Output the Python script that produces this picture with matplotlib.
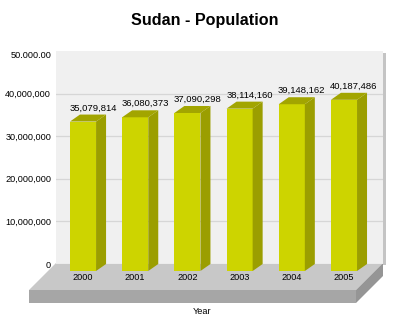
import matplotlib
matplotlib.use("Agg")
import matplotlib.pyplot as plt
import matplotlib.transforms as mtransforms
from matplotlib.patches import Polygon, Rectangle

plt.rcParams['font.family'] = ['Liberation Sans', 'DejaVu Sans']

years = ['2000', '2001', '2002', '2003', '2004', '2005']
population = [35079814, 36080373, 37090298, 38114160, 39148162, 40187486]
value_labels = ['35,079,814', '36,080,373', '37,090,298', '38,114,160', '39,148,162', '40,187,486']
ytick_vals = [0, 10000000, 20000000, 30000000, 40000000, 50000000]
ytick_labels = ['0', '10,000,000', '20,000,000', '30,000,000', '40,000,000', '50.000.00']

W, H = 394, 322
DPI = 100
fig = plt.figure(figsize=(W / DPI, H / DPI), dpi=DPI)
fig.patch.set_facecolor('white')

# background axes in pixel coordinates (for floor / shadows)
bg = fig.add_axes([0, 0, 1, 1], zorder=0)
bg.set_xlim(0, W)
bg.set_ylim(H, 0)
bg.axis('off')

# wall right shadow
bg.add_patch(Rectangle((383, 53), 3, 212, color='#c4c4c4', lw=0))
# floor top
bg.add_patch(Polygon([(56, 263), (383, 263), (356, 290), (29, 290)], closed=True,
                     facecolor='#c8c8c8', edgecolor='none'))
# floor front slab
bg.add_patch(Rectangle((29, 290), 327, 13, facecolor='#a6a6a6', edgecolor='none'))
# floor right side
bg.add_patch(Polygon([(383, 263), (383, 276), (356, 303), (356, 290)], closed=True,
                     facecolor='#959595', edgecolor='none'))

# main axes = back wall
left, right, top, bottom = 56, 383, 51, 264
ax = fig.add_axes([left / W, 1 - bottom / H, (right - left) / W, (bottom - top) / H], zorder=1)
ax.set_facecolor('#f0f0f0')
ax.set_xlim(-0.709, 5.556)
ax.set_ylim(0, 50000000)
for s in ax.spines.values():
    s.set_visible(False)
ax.set_yticks(ytick_vals)
ax.set_yticklabels(ytick_labels, fontsize=6.6, color='black')
ax.tick_params(axis='y', length=0, pad=3.5)
ax.set_xticks([])
ax.yaxis.grid(True, color='#d6d6d6', lw=0.9)
ax.set_axisbelow(True)
gls = ax.yaxis.get_gridlines()
gls[-1].set_visible(False)
# nudge the clipped top label down
lbl_off = mtransforms.ScaledTranslation(0, -4 / DPI, fig.dpi_scale_trans)
lastlbl = ax.get_yticklabels()[-1]
lastlbl.set_transform(lastlbl.get_transform() + lbl_off)

dx, dy = 10, 7
bw = 0.5
front_col = '#cdd400'
side_col = '#9b9e00'
top_col = '#a2a500'
xs = list(range(len(years)))

front_off = mtransforms.ScaledTranslation(-dx / DPI, -dy / DPI, fig.dpi_scale_trans)
ax.bar(xs, population, width=bw, color=front_col, lw=0,
       transform=ax.transData + front_off, clip_on=False, zorder=3)

ident = mtransforms.IdentityTransform()
for x, v in zip(xs, population):
    br0 = ax.transData.transform((x + bw / 2, 0))
    blv = ax.transData.transform((x - bw / 2, v))
    brv = ax.transData.transform((x + bw / 2, v))
    side = [(br0[0] - dx, br0[1] - dy), (brv[0] - dx, brv[1] - dy), tuple(brv), tuple(br0)]
    topf = [(blv[0] - dx, blv[1] - dy), (brv[0] - dx, brv[1] - dy), tuple(brv), tuple(blv)]
    ax.add_patch(Polygon(side, closed=True, facecolor=side_col, edgecolor='none',
                         transform=ident, clip_on=False, zorder=3))
    ax.add_patch(Polygon(topf, closed=True, facecolor=top_col, edgecolor='none',
                         transform=ident, clip_on=False, zorder=3))

lab_off = mtransforms.ScaledTranslation(0, 2 / DPI, fig.dpi_scale_trans)
for x, v, t in zip(xs, population, value_labels):
    ax.text(x, v, t, ha='center', va='bottom', fontsize=6.8, color='black',
            transform=ax.transData + lab_off, clip_on=False, zorder=4)

yr_off = mtransforms.ScaledTranslation(-dx / DPI, -13 / DPI, fig.dpi_scale_trans)
for x, t in zip(xs, years):
    ax.text(x, 0, t, ha='center', va='center', fontsize=6.6, color='black',
            transform=ax.transData + yr_off, clip_on=False, zorder=4)

fig.text(202 / W, 1 - 312 / H, 'Year', ha='center', va='center', fontsize=6.6)
fig.text(205 / W, 1 - 20 / H, 'Sudan - Population', ha='center', va='center',
         fontsize=11.6, fontweight='bold')

fig.savefig('out.png', dpi=DPI, facecolor='white')
